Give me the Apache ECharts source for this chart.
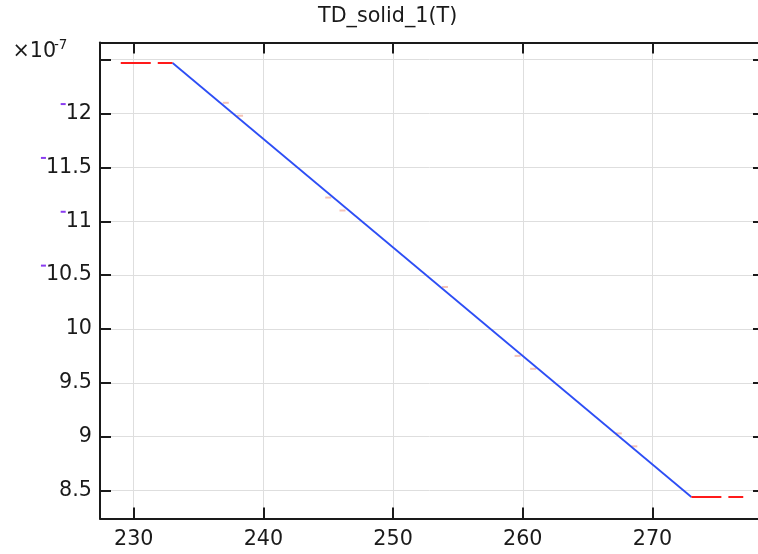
<!DOCTYPE html>
<html>
<head>
<meta charset="utf-8">
<script src="https://cdn.jsdelivr.net/npm/echarts@6/dist/echarts.min.js"></script>
<style>
  html, body { margin: 0; padding: 0; background: #fff; }
  #chart { width: 758px; height: 554px; }
</style>
</head>
<body>
<div id="chart"></div>
<script>
// Temperature (K) and TD_solid_1 value (in units of 1e-7)
const temperature = [229, 233, 273, 277];
const tdSolid = [12.47, 12.47, 8.44, 8.44];

// Faint sample dashes drawn beside the interpolation line
const sampleT = [237.1, 238.2, 245.0, 246.1, 254.0, 259.6, 260.8, 267.4, 268.6];
const sampleV = [12.10, 11.98, 11.22, 11.10, 10.39, 9.75, 9.63, 9.03, 8.91];

const xTickLabels = [230, 240, 250, 260, 270];
const yTickLabels = [8.5, 9, 9.5, 10, 10.5, 11, 11.5, 12];
const markedYLabels = [10.5, 11, 11.5, 12];

const FONT = 'DejaVu Sans';
const FS = 20.7;
const INK = '#1a1a1a';

const pts = (i0, i1) => temperature.slice(i0, i1 + 1).map((t, k) => [t, tdSolid[i0 + k]]);
const near = (v, list) => list.some(x => Math.abs(x - v) < 1e-6);

const chart = echarts.init(document.getElementById('chart'), null, { renderer: 'canvas' });

const frameAxis = {
  axisLine: { show: true, lineStyle: { color: INK, width: 2 } },
  axisTick: { show: true, inside: true, length: 11, lineStyle: { color: INK, width: 2 } }
};

chart.setOption({
  animation: false,
  backgroundColor: '#ffffff',
  title: {
    text: 'TD_solid_1(T)',
    left: 318,
    top: 6.5,
    padding: 0,
    textStyle: { fontFamily: FONT, fontSize: FS, fontWeight: 'normal', color: INK }
  },
  graphic: [
    {
      type: 'text', x: 12.5, y: 51.5,
      style: { text: '\u00d710', fontFamily: FONT, fontSize: FS, fill: INK, verticalAlign: 'middle', align: 'left' }
    },
    {
      type: 'text', x: 54, y: 45,
      style: { text: '-7', fontFamily: FONT, fontSize: 13.5, fill: INK, verticalAlign: 'middle', align: 'left' }
    }
  ],
  grid: { left: 100, top: 42.5, width: 664, height: 476, containLabel: false, outerBoundsMode: 'none' },
  xAxis: [
    Object.assign({
      type: 'value', position: 'bottom', min: 227.4, max: 278.6, splitNumber: 5,
      axisLabel: {
        show: true, margin: 10.5, fontFamily: FONT, fontSize: FS, color: INK,
        showMinLabel: false, showMaxLabel: false,
        formatter: v => near(v, xTickLabels) ? String(Math.round(v)) : ''
      },
      splitLine: { show: true, lineStyle: { color: '#dedede', width: 1 } }
    }, frameAxis),
    Object.assign({
      type: 'value', position: 'top', min: 227.4, max: 278.6, splitNumber: 5,
      axisLabel: { show: false }, splitLine: { show: false }
    }, frameAxis)
  ],
  yAxis: [
    Object.assign({
      type: 'value', position: 'left', min: 8.24, max: 12.66, splitNumber: 9,
      axisLabel: {
        show: true, margin: 8, fontFamily: FONT, fontSize: FS, color: INK,
        showMinLabel: false, showMaxLabel: false,
        formatter: v => {
          if (!near(v, yTickLabels)) return '';
          const s = String(Math.round(v * 10) / 10);
          return near(v, markedYLabels) ? '{m| }{v|' + s + '}' : '{v|' + s + '}';
        },
        rich: {
          v: { fontFamily: FONT, fontSize: FS, color: INK },
          m: { width: 5, height: 2, fontSize: 2, backgroundColor: '#8a3cf0', verticalAlign: 'top' }
        }
      },
      splitLine: { show: true, lineStyle: { color: '#dedede', width: 1 } }
    }, frameAxis),
    Object.assign({
      type: 'value', position: 'right', min: 8.24, max: 12.66, splitNumber: 9,
      axisLabel: { show: false }, splitLine: { show: false }
    }, frameAxis)
  ],
  series: [
    {
      name: 'samples', type: 'scatter', z: 1,
      data: sampleT.map((t, i) => [t, sampleV[i]]),
      symbol: 'rect', symbolSize: [6, 2],
      itemStyle: { color: '#f3b4a4' }, silent: true
    },
    {
      name: 'below range', type: 'line', z: 3, showSymbol: false, symbol: 'none',
      data: pts(0, 1),
      lineStyle: { color: '#ff1a1a', width: 2, type: [30, 7] }
    },
    {
      name: 'TD_solid_1', type: 'line', z: 3, showSymbol: false, symbol: 'none',
      data: pts(1, 2),
      lineStyle: { color: '#2d4ef5', width: 1.8 }
    },
    {
      name: 'above range', type: 'line', z: 3, showSymbol: false, symbol: 'none',
      data: pts(2, 3),
      lineStyle: { color: '#ff1a1a', width: 2, type: [30, 7] }
    }
  ]
});
</script>
</body>
</html>
